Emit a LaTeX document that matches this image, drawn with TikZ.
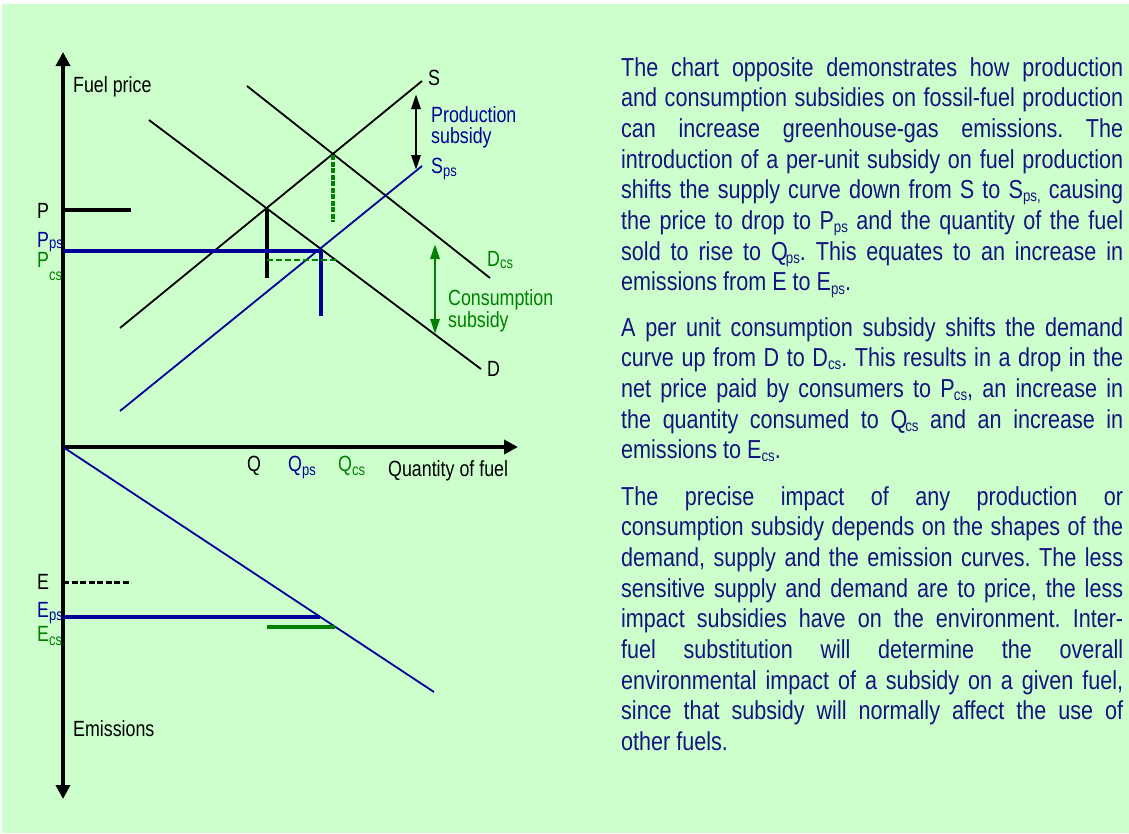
\documentclass[tikz,border=0pt]{standalone}
\usepackage{fontspec}
\setmainfont{Liberation Sans}[FakeStretch=0.81]
\newfontfamily\bodyfont{Liberation Sans}[FakeStretch=0.83]
\usetikzlibrary{arrows.meta}
\definecolor{bg}{HTML}{CCFFCC}
\definecolor{navyb}{HTML}{000099}
\definecolor{txtb}{HTML}{14147F}
\definecolor{grn}{HTML}{008000}
\newcommand{\lsub}[2][0.3em]{\raisebox{-#1}{\fontsize{16}{16}\selectfont #2}}
\newcommand{\bsub}[1]{\raisebox{-0.12em}{\fontsize{16}{16}\selectfont #1}}
\newcommand{\parasetup}{\bodyfont\fontsize{26}{30.7}\selectfont\tolerance=10000\hyphenpenalty=10000\parindent=0pt\frenchspacing\noindent}
\begin{document}
\begin{tikzpicture}[x=1pt,y=-1pt,
  lbl/.style={font=\fontsize{22}{22}\selectfont, inner sep=0, anchor=base west},
  axis/.style={line width=4pt, -{Triangle[width=14pt,length=14pt]}},
  curve/.style={line width=1.8pt},
  drop/.style={line width=3.6pt},
  dbl/.style={line width=2.8pt, {Triangle[width=9pt,length=15pt]}-{Triangle[width=9pt,length=15pt]}},
  para/.style={inner sep=0, anchor=base west, text=txtb}
]
\useasboundingbox (0,0) rectangle (1129,833);
\fill[bg] (2,4) rectangle (1129,833);

% axes
\coordinate (O) at (63,447);
\coordinate (ytop) at (63,52);
\coordinate (ybot) at (63,799);
\coordinate (xend) at (518,447);
\draw[axis] (O) -- (ytop);
\draw[axis] (O) -- (ybot);
\draw[axis] (O) -- (xend);

% curves
\coordinate (S1) at (120,328); \coordinate (S2) at (422,81);
\coordinate (Sp1) at (120,411); \coordinate (Sp2) at (422,166);
\coordinate (D1) at (149,120); \coordinate (D2) at (481,369);
\coordinate (Dc1) at (247,86); \coordinate (Dc2) at (490,278);
\coordinate (Em2) at (434,692);
\draw[curve] (S1) -- (S2);
\draw[curve] (D1) -- (D2);
\draw[curve] (Dc1) -- (Dc2);
\draw[curve, navyb] (Sp1) -- (Sp2);
\draw[curve, navyb] (O) -- (Em2);

% equilibrium drop lines
\coordinate (Py) at (63,210); \coordinate (Px) at (131,210);
\draw[drop] (Py) -- (Px);
\coordinate (e0) at (267,209); \coordinate (e0b) at (267,278);
\draw[drop] (e0) -- (e0b);
\coordinate (Ppy) at (63,251); \coordinate (e1) at (321,251); \coordinate (e1b) at (321,316);
\draw[drop, navyb] (Ppy) -- (e1);
\draw[drop, navyb] (e1) -- (e1b);
\coordinate (e2) at (333,155); \coordinate (e2b) at (333,222);
\draw[line width=3.4pt, grn, dash pattern=on 5pt off 1.5pt] (e2) -- (e2b);
\coordinate (c1) at (267,260); \coordinate (c2) at (337,260);
\draw[line width=2.8pt, grn, dash pattern=on 6pt off 3pt] (c1) -- (c2);

% emissions levels
\coordinate (Ey) at (63,582); \coordinate (Ex) at (131,582);
\draw[line width=3pt, dash pattern=on 6pt off 2.5pt] (Ey) -- (Ex);
\coordinate (Epy) at (63,617); \coordinate (Epx) at (320,617);
\draw[drop, navyb] (Epy) -- (Epx);
\coordinate (Ec1) at (267,627); \coordinate (Ec2) at (335,627);
\draw[drop, grn] (Ec1) -- (Ec2);

% subsidy arrows
\coordinate (pa1) at (416,94); \coordinate (pa2) at (416,170);
\draw[dbl] (pa1) -- (pa2);
\coordinate (ca1) at (435,244); \coordinate (ca2) at (435,334);
\draw[dbl, grn] (ca1) -- (ca2);

% labels
\node[lbl] (fp) at (73,92) {Fuel price};
\node[lbl] (em) at (73,736) {Emissions};
\node[lbl] (lS) at (428,85) {S};
\node[lbl, navyb] (lSp) at (431,173) {S\lsub[0.15em]{ps}};
\node[lbl, grn] (lDc) at (487,266) {D\lsub[0.1em]{cs}};
\node[lbl] (lD) at (487,376) {D};
\node[lbl, navyb] (prod1) at (431,122) {Production};
\node[lbl, navyb] (prod2) at (431,143) {subsidy};
\node[lbl, grn] (cons1) at (448,305) {Consumption};
\node[lbl, grn] (cons2) at (448,327) {subsidy};
\node[lbl] (lP) at (37,218) {P};
\node[lbl, navyb] (lPp) at (37,247) {P\lsub[0.05em]{ps}};
\node[lbl, grn] (lPc) at (37,267) {P\lsub[0.6em]{cs}};
\node[lbl] (lQ) at (247,471) {Q};
\node[lbl, navyb] (lQp) at (288,471) {Q\lsub[0.2em]{ps}};
\node[lbl, grn] (lQc) at (338,471) {Q\lsub[0.2em]{cs}};
\node[lbl] (lqf) at (388,476) {Quantity of fuel};
\node[lbl] (lE) at (37,589) {E};
\node[lbl, navyb] (lEp) at (37,617) {E\lsub[0.15em]{ps}};
\node[lbl, grn] (lEc) at (37,641) {E\lsub[0.2em]{cs}};

% text
\node[para] (p1) at (621,76) {\begin{minipage}[t]{502pt}\parasetup
The chart opposite demonstrates how production\linebreak
and consumption subsidies on fossil-fuel production\linebreak
can increase greenhouse-gas emissions. The\linebreak
introduction of a per-unit subsidy on fuel production\linebreak
shifts the supply curve down from S to S\bsub{ps,} causing\linebreak
the price to drop to P\bsub{ps} and the quantity of the fuel\linebreak
sold to rise to Q\kern-2pt\bsub{ps}. This equates to an increase in\linebreak
emissions from E to E\bsub{ps}.\end{minipage}};
\node[para] (p2) at (621,336) {\begin{minipage}[t]{502pt}\parasetup
A per unit consumption subsidy shifts the demand\linebreak
curve up from D to D\bsub{cs}. This results in a drop in the\linebreak
net price paid by consumers to P\kern-1pt\bsub{cs}, an increase in\linebreak
the quantity consumed to Q\kern-2pt\bsub{cs} and an increase in\linebreak
emissions to E\bsub{cs}.\end{minipage}};
\node[para] (p3) at (621,505) {\begin{minipage}[t]{502pt}\parasetup
The precise impact of any production or\linebreak
consumption subsidy depends on the shapes of the\linebreak
demand, supply and the emission curves. The less\linebreak
sensitive supply and demand are to price, the less\linebreak
impact subsidies have on the environment. Inter-\linebreak
fuel substitution will determine the overall\linebreak
environmental impact of a subsidy on a given fuel,\linebreak
since that subsidy will normally affect the use of\linebreak
other fuels.\end{minipage}};
\end{tikzpicture}
\end{document}
